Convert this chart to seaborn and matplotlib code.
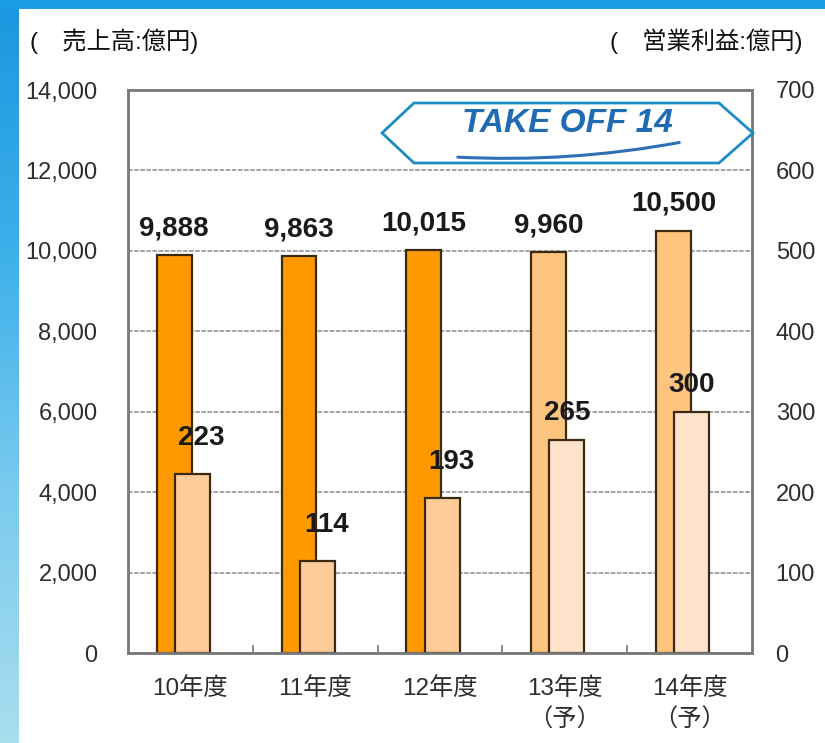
import numpy as np
import pandas as pd
import matplotlib
matplotlib.use("Agg")
import matplotlib.pyplot as plt
import seaborn as sns
from matplotlib.patches import Polygon, Rectangle, FancyArrowPatch

# ---------- data ----------
categories = ["10年度", "11年度", "12年度", "13年度\n（予）", "14年度\n（予）"]
sales = [9888, 9863, 10015, 9960, 10500]          # 売上高 (億円)
profit = [223, 114, 193, 265, 300]                # 営業利益 (億円)
is_forecast = [False, False, False, True, True]

sales_colors = ["#FF9900" if not f else "#FFC47D" for f in is_forecast]
profit_colors = ["#FFCC99" if not f else "#FFE3CA" for f in is_forecast]

W, H = 825, 743
sns.set_theme(style="white")
plt.rcParams["font.family"] = ["Liberation Sans", "Noto Sans CJK JP", "DejaVu Sans"]

fig = plt.figure(figsize=(W / 100, H / 100), dpi=100)
fig.patch.set_facecolor("white")


def fx(px):
    return px / W


def fy(py):
    return 1 - py / H


# background frame: blue band on top and gradient on the left
fig.add_artist(Rectangle((0, fy(9)), 1, 9 / H, transform=fig.transFigure,
                         facecolor="#199DE3", edgecolor="none", zorder=-5))
band = fig.add_axes([0, 0, fx(19), fy(9)], zorder=-5)
grad = np.linspace(0, 1, 256).reshape(-1, 1)
cmap = matplotlib.colors.LinearSegmentedColormap.from_list(
    "band", ["#1C97DF", "#3DB0EA", "#7CCBEE", "#A9DEEE"])
band.imshow(grad, aspect="auto", cmap=cmap, extent=[0, 1, 0, 1])
band.axis("off")

ax = fig.add_axes([fx(128), fy(653), fx(752) - fx(128), fy(90) - fy(653)])
ax2 = ax.twinx()

pos = np.arange(len(categories))
SALES_SHIFT, PROFIT_SHIFT, BAR_W = -0.13, 0.017, 0.28

df = pd.DataFrame({"pos": pos, "cat": categories, "sales": sales, "profit": profit})

sns.barplot(data=df.assign(x=df["pos"] + SALES_SHIFT), x="x", y="sales", hue="cat",
            palette=sales_colors, native_scale=True, width=BAR_W, dodge=False,
            saturation=1, legend=False, edgecolor="#3A2A12", linewidth=1.6,
            ax=ax, zorder=2)
sns.barplot(data=df.assign(x=df["pos"] + PROFIT_SHIFT), x="x", y="profit", hue="cat",
            palette=profit_colors, native_scale=True, width=BAR_W, dodge=False,
            saturation=1, legend=False, edgecolor="#3A2A12", linewidth=1.6,
            ax=ax2, zorder=2)

# axes ranges and ticks
for a in (ax, ax2):
    a.set_xlim(-0.5, 4.5)
    a.set_xlabel("")
    a.set_ylabel("")
ax.set_ylim(0, 14000)
ax2.set_ylim(0, 700)
ax.set_yticks(np.arange(0, 14001, 2000))
ax.set_yticklabels([f"{v:,}" for v in range(0, 14001, 2000)])
ax2.set_yticks(np.arange(0, 701, 100))
ax.set_xticks(pos)
ax.set_xticklabels(categories, linespacing=1.5)
ax.set_xticks(pos[:-1] + 0.5, minor=True)

ax.tick_params(axis="y", length=0, pad=22, labelsize=17, labelcolor="#2E2E2E")
ax2.tick_params(axis="y", length=0, pad=17, labelsize=17, labelcolor="#2E2E2E")
ax.tick_params(axis="x", which="major", length=0, pad=17, labelsize=17.5,
               labelcolor="#2E2E2E")
ax.tick_params(axis="x", which="minor", direction="in", length=6, width=1.2,
               color="#777777", bottom=True)
ax2.tick_params(axis="x", which="both", length=0)

ax.set_axisbelow(True)
ax.yaxis.grid(True, color="#8A8A8A", linestyle=(0, (3, 1)), linewidth=1.1)
for a in (ax, ax2):
    for s in a.spines.values():
        s.set_visible(True)
        s.set_color("#7A7A7A")
        s.set_linewidth(1.8)

# value labels
for p, s in zip(pos, sales):
    ax.annotate(f"{s:,}", (p + SALES_SHIFT, s), xytext=(0, 19.5),
                textcoords="offset points", ha="center", va="center",
                fontsize=20, fontweight="bold", color="#1A1A1A", zorder=6)
for p, v, f in zip(pos, profit, is_forecast):
    dx, dy = (0, 19.5) if f else (6.5, 26)
    ax2.annotate(f"{v}", (p + PROFIT_SHIFT, v), xytext=(dx, dy),
                 textcoords="offset points", ha="center", va="center",
                 fontsize=20, fontweight="bold", color="#1A1A1A", zorder=6)

# unit headers
fig.text(fx(30), fy(41), "(　売上高:億円)", fontsize=17.5, color="#111111",
         ha="left", va="center")
fig.text(fx(802), fy(41), "(　営業利益:億円)", fontsize=17.5, color="#111111",
         ha="right", va="center")

# TAKE OFF 14 badge
badge = [(382, 133), (414, 103), (719, 103), (753, 133), (719, 163), (414, 163)]
fig.add_artist(Polygon([(fx(x), fy(y)) for x, y in badge], closed=True,
                       transform=fig.transFigure, facecolor="white",
                       edgecolor="#1C8DC2", linewidth=2, zorder=5))
fig.text(fx(567), fy(124), "TAKE OFF 14", fontsize=24, fontweight="bold",
         fontstyle="italic", color="#1F6CB5", ha="center", va="center", zorder=6)
fig.add_artist(FancyArrowPatch((fx(455), fy(157)), (fx(682), fy(142)),
                               transform=fig.transFigure, arrowstyle="-",
                               connectionstyle="arc3,rad=0.06",
                               color="#2F6FB5", linewidth=2.2, zorder=6))

fig.savefig("out.png", dpi=100)
